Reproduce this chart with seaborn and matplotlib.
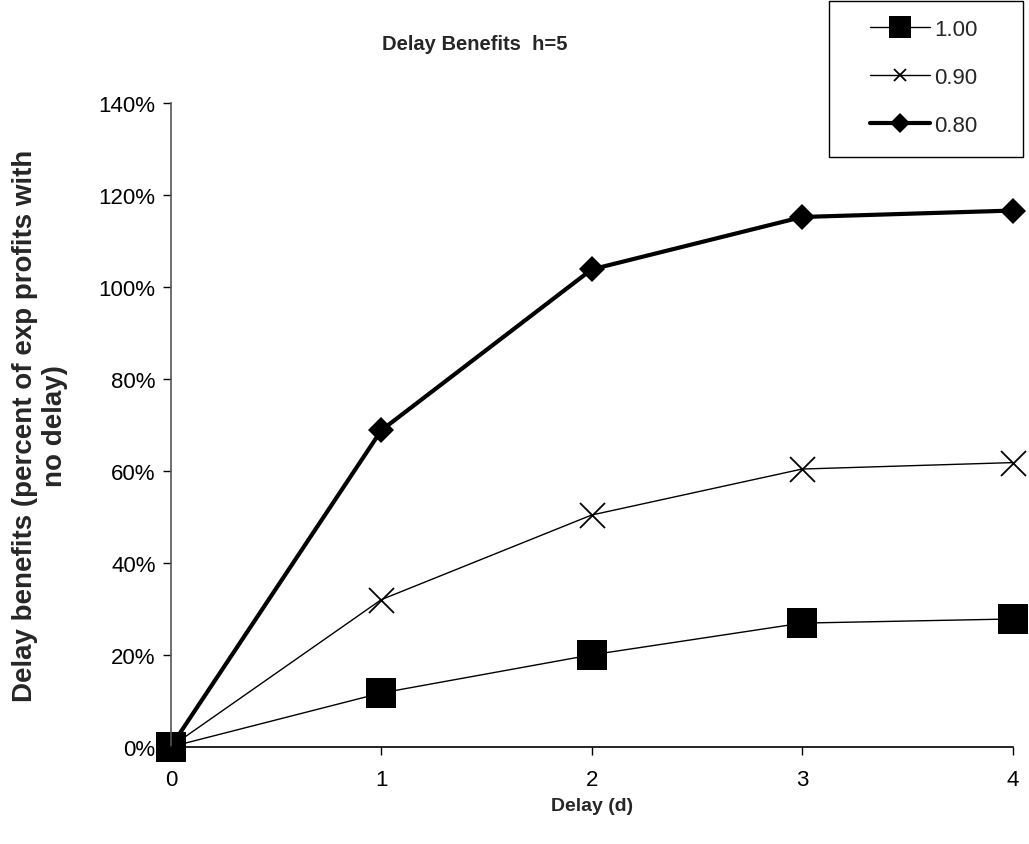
import matplotlib
matplotlib.use("Agg")
import matplotlib.pyplot as plt
import matplotlib.patches as mpatches
import seaborn as sns
import pandas as pd
from matplotlib.ticker import FuncFormatter

delay = [0, 1, 2, 3, 4]
series_names = ["1.00", "0.90", "0.80"]
vals_100 = [0.0, 11.7, 20.0, 26.9, 27.8]
vals_090 = [0.0, 32.0, 50.4, 60.4, 61.8]
vals_080 = [0.0, 68.8, 103.8, 115.2, 116.6]
yticks = [0, 20, 40, 60, 80, 100, 120, 140]

sns.set_theme(style="white")
plt.rcParams['font.family'] = ['Liberation Sans', 'DejaVu Sans']

W, H = 1029, 845
fig = plt.figure(figsize=(W / 100, H / 100), dpi=100)
ax = fig.add_axes([0.166, 0.115, 0.818, 0.762])

styles = {
    "1.00": dict(marker="s", markersize=21, linewidth=1.0, mew=0),
    "0.90": dict(marker="x", markersize=18, linewidth=1.0, mew=1.3),
    "0.80": dict(marker="D", markersize=13, linewidth=3.0, mew=0),
}
for name, vals in zip(series_names, [vals_100, vals_090, vals_080]):
    df = pd.DataFrame({"d": delay, "v": vals})
    st = styles[name]
    sns.lineplot(data=df, x="d", y="v", ax=ax, color="black",
                 marker=st["marker"], markersize=st["markersize"],
                 linewidth=st["linewidth"], markeredgewidth=st["mew"],
                 markeredgecolor="black", label=name, clip_on=False)

ax.set_xlim(0, 4)
ax.set_ylim(0, 140)
ax.set_xticks(delay)
ax.set_yticks(yticks)
ax.yaxis.set_major_formatter(FuncFormatter(lambda v, p: f"{int(v)}%"))
ax.tick_params(axis="both", labelsize=16, length=6, width=1, direction="out",
               colors="black", left=True, bottom=True)
ax.tick_params(axis="x", pad=10)
ax.tick_params(axis="y", pad=5)
for s in ["top", "right"]:
    ax.spines[s].set_visible(False)
ax.spines["left"].set_color("#555555")
ax.spines["bottom"].set_color("black")
for s in ["left", "bottom"]:
    ax.spines[s].set_linewidth(1.2)

ax.set_xlabel("Delay (d)", fontsize=14, fontweight="bold", labelpad=5)
ax.set_ylabel("Delay benefits (percent of exp profits with\nno delay)",
              fontsize=20, fontweight="bold", labelpad=22, linespacing=1.2)
fig.text(0.461, 0.947, "Delay Benefits  h=5", ha="center", va="center",
         fontsize=14.5, fontweight="bold")

leg = ax.legend(loc="upper left", bbox_to_anchor=(854.5 / W, 0.995),
                bbox_transform=fig.transFigure, frameon=False,
                fontsize=16, handlelength=2.7,
                labelspacing=1.22, borderpad=0.7, handletextpad=0.2,
                borderaxespad=0)
handle_sizes = {"1.00": 16, "0.90": 9, "0.80": 10}
for h, t in zip(leg.legend_handles, leg.get_texts()):
    h.set_markersize(handle_sizes[t.get_text()])

frame = mpatches.Rectangle((829 / W, 1 - 158 / H), 194 / W, 156 / H,
                           transform=fig.transFigure, fill=False,
                           edgecolor="black", linewidth=1.0)
fig.patches.append(frame)

fig.savefig("out.png", dpi=100)
